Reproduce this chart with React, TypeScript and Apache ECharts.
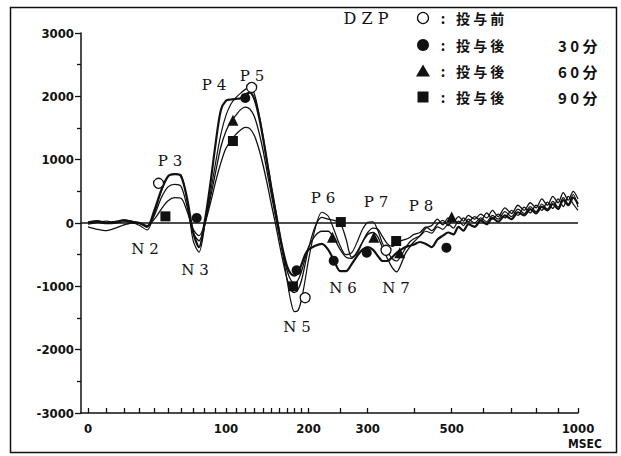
import React, { useEffect, useRef } from "react";
import * as echarts from "echarts";

// time offset used for the logarithmic time axis (axis value = ms + OFFSET)
const OFFSET = 108;

const times = [
  0, 5, 10, 15, 20, 25, 30, 35, 40, 45,
  50, 55, 60, 65, 70, 75, 80, 85, 90, 95,
  100, 105, 110, 115, 120, 125, 130, 135, 140, 145,
  150, 155, 160, 165, 170, 175, 180, 185, 190, 195,
  200, 210, 220, 230, 240, 250, 260, 270, 280, 290,
  300, 310, 320, 330, 340, 350, 360, 370, 380, 390,
  400, 415, 430, 445, 460, 475, 490, 505, 520, 535,
  550, 570, 590, 610, 630, 650, 675, 700, 725, 750,
  775, 800, 825, 850, 875, 900, 925, 950, 975, 1000,
];

// 投与前
const beforeVals = [
  -20, 10, 30, 0, 20, 10, -40, -110, 150, 500,
  730, 780, 760, 350, -280, -460, -50, 450, 950, 1400,
  1700, 1880, 1980, 2050, 2110, 2140, 2040, 1750, 1380, 980,
  580, 230, -120, -520, -900, -1230, -1400, -1380, -1200, -900,
  -580, -80, 170, 110, -120, -360, -500, -470, -300, -100,
  10, 20, -120, -330, -450, -560, -600, -520, -400, -300,
  -250, -200, -130, -160, -60, -100, -20, -80, 30, -40,
  60, 0, 80, 20, 120, 60, 180, 100, 220, 150,
  260, 180, 300, 220, 340, 250, 400, 300, 450, 250,
];

// 投与後 30分
const after30Vals = [
  10, 30, 0, 20, 40, 20, 0, -60, 200, 520,
  740, 770, 740, 380, -150, -380, 20, 600, 1250, 1780,
  1930, 1950, 1960, 1970, 2030, 2060, 1960, 1700, 1350, 950,
  560, 200, -150, -450, -680, -800, -830, -780, -650, -500,
  -420, -360, -330, -420, -600, -760, -760, -650, -520, -420,
  -380, -420, -520, -600, -600, -540, -470, -420, -380, -360,
  -340, -300, -330, -380, -260, -200, -150, -180, -60, -120,
  -20, -60, 40, -20, 80, 20, 120, 60, 170, 120,
  220, 150, 260, 200, 300, 220, 360, 280, 400, 300,
];

// 投与後 60分
const after60Vals = [
  -60, -100, -120, -80, -30, 0, -10, -60, 120, 400,
  570, 610, 580, 250, -150, -280, -20, 380, 800, 1200,
  1450, 1600, 1700, 1790, 1830, 1800, 1680, 1450, 1150, 800,
  450, 120, -200, -500, -750, -900, -950, -900, -760, -560,
  -380, -200, -130, -130, -250, -420, -540, -560, -450, -300,
  -180, -150, -220, -400, -560, -700, -770, -650, -480, -380,
  -300, -200, -80, -40, 60, -30, 80, 20, 100, 30,
  120, 60, 140, 80, 200, 100, 240, 150, 280, 200,
  320, 240, 380, 280, 420, 320, 480, 360, 500, 380,
];

// 投与後 90分
const after90Vals = [
  0, 10, -10, 0, 50, 30, 0, -40, 60, 220,
  350, 400, 390, 180, -100, -200, -20, 300, 650, 950,
  1180, 1300, 1400, 1470, 1510, 1490, 1380, 1180, 920, 620,
  300, 0, -320, -620, -880, -1050, -1100, -1050, -900, -650,
  -400, -50, 90, 60, 40, 0, -250, -540, -480, -300,
  -150, -80, -100, -220, -330, -370, -330, -280, -260, -230,
  -180, -150, -60, -120, -20, 40, -40, 60, -10, 80,
  20, 100, 40, 160, 60, 140, 80, 200, 120, 250,
  160, 280, 200, 330, 230, 380, 260, 420, 300, 200,
];

// marker points (ms, value)
const beforeMarkT = [43, 127, 195, 337];
const beforeMarkV = [627, 2140, -1179, -431];
const after30MarkT = [73, 120, 183, 239, 298, 485];
const after30MarkV = [80, 1975, -747, -595, -468, -389];
const after60MarkT = [107, 237, 312, 367, 500];
const after60MarkV = [1622, -225, -226, -468, 95];
const after90MarkT = [48, 107, 178, 251, 359];
const after90MarkV = [105, 1295, -1000, 15, -284];

const xLabelValues = [0, 100, 200, 300, 500, 1000];
const xTickValues = [
  0, 10, 20, 30, 40, 50, 60, 70, 80, 90, 100,
  110, 120, 130, 140, 150, 160, 170, 180, 190, 200,
  250, 300, 400, 500, 600, 700, 800, 900, 1000,
];

const peakLabels = ["P 3", "P 4", "P 5", "N 2", "N 3", "N 5", "P 6", "N 6", "P 7", "N 7", "P 8"];
const peakPos: [number, number][] = [
  [170, 161], [214, 85], [252, 76], [145, 249], [195, 270], [297, 327],
  [323, 198], [343, 288], [376, 202], [396, 288], [421, 206],
];

const legendNames = ["投 与 前", "投 与 後", "投 与 後", "投 与 後"];
const legendTimes = ["", "3 0 分", "6 0 分", "9 0 分"];

const AXIS_FONT = "'DejaVu Sans Condensed', 'Liberation Sans Narrow', 'DejaVu Sans', sans-serif";
const SERIF = "'DejaVu Serif', 'Liberation Serif', serif";
const CJK = "'Noto Sans CJK JP', 'Noto Sans CJK SC', sans-serif";

const toPairs = (ts: number[], vs: number[]) => ts.map((t, i) => [t + OFFSET, vs[i]]);

export default function App() {
  const ref = useRef<HTMLDivElement>(null);
  useEffect(() => {
    if (!ref.current) return;
    const chart = echarts.init(ref.current, null, { renderer: "svg" });
    const black = "#111";
    const lineSeries = (name: string, vals: number[], width: number, withZero = false) => ({
      name,
      type: "line",
      data: toPairs(times, vals),
      showSymbol: false,
      symbol: "none",
      smooth: 0.3,
      lineStyle: { color: black, width },
      z: 3,
      ...(withZero
        ? {
            markLine: {
              silent: true,
              symbol: ["none", "none"],
              label: { show: false },
              lineStyle: { color: black, width: 1.6, type: "solid" },
              data: [{ yAxis: 0 }],
            },
          }
        : {}),
    });
    const legendY = [18, 45, 71, 97];
    const centered = { align: "center", verticalAlign: "middle", textAlign: "center", textVerticalAlign: "middle" };
    const leftMid = { align: "left", verticalAlign: "middle", textAlign: "left", textVerticalAlign: "middle" };
    const graphic: any[] = [
      {
        type: "rect",
        shape: { x: 10.5, y: 7.5, width: 606, height: 445 },
        style: { fill: "none", stroke: black, lineWidth: 1.5 },
        silent: true,
      },
      {
        type: "text",
        x: 366,
        y: legendY[0],
        style: { text: "D Z P", font: `16px ${SERIF}`, fill: black, ...centered },
      },
      {
        type: "text",
        x: 585,
        y: 444,
        style: { text: "MSEC", font: `bold 12px ${AXIS_FONT}`, fill: black, ...centered },
      },
    ];
    // legend symbols
    const sx = 423;
    graphic.push({
      type: "circle",
      shape: { cx: sx, cy: legendY[0], r: 5.5 },
      style: { fill: "#fff", stroke: black, lineWidth: 1.3 },
    });
    graphic.push({ type: "circle", shape: { cx: sx, cy: legendY[1], r: 6 }, style: { fill: black } });
    graphic.push({
      type: "polygon",
      shape: { points: [[sx, legendY[2] - 6.5], [sx + 7, legendY[2] + 5.5], [sx - 7, legendY[2] + 5.5]] },
      style: { fill: black },
    });
    graphic.push({
      type: "rect",
      shape: { x: sx - 5.5, y: legendY[3] - 5.5, width: 11, height: 11 },
      style: { fill: black },
    });
    legendNames.forEach((n, i) => {
      graphic.push({
        type: "text",
        x: 443,
        y: legendY[i],
        style: { text: ":", font: `bold 14px ${CJK}`, fill: black, ...centered },
      });
      graphic.push({
        type: "text",
        x: 456,
        y: legendY[i],
        style: { text: n, font: `bold 14px ${CJK}`, fill: black, ...leftMid },
      });
      if (legendTimes[i]) {
        graphic.push({
          type: "text",
          x: 558,
          y: legendY[i],
          style: { text: legendTimes[i], font: `bold 15px ${CJK}`, fill: black, ...leftMid },
        });
      }
    });
    peakLabels.forEach((t, i) => {
      graphic.push({
        type: "text",
        x: peakPos[i][0],
        y: peakPos[i][1],
        style: { text: t, font: `15px ${SERIF}`, fill: black, ...centered },
      });
    });

    const axisLabelStyle = {
      color: black,
      fontSize: 13,
      fontWeight: "bold",
      fontFamily: AXIS_FONT,
    };
    const tickLine = { color: black, width: 1.3 };

    chart.setOption({
      animation: false,
      backgroundColor: "#fff",
      grid: { left: 81, top: 33, right: 43, bottom: 43 },
      xAxis: {
        type: "log",
        logBase: 10,
        min: 104.46,
        max: 1000 + OFFSET,
        axisLine: { show: true, onZero: false, lineStyle: { color: black, width: 1.5 } },
        axisTick: {
          show: true,
          customValues: xTickValues.map((t) => t + OFFSET),
          length: 5,
          inside: true,
          lineStyle: tickLine,
        },
        minorTick: { show: false },
        axisLabel: {
          ...axisLabelStyle,
          customValues: xLabelValues.map((t) => t + OFFSET),
          formatter: (v: number) => String(Math.round(v - OFFSET)),
          margin: 9,
        },
        splitLine: { show: false },
      },
      yAxis: {
        type: "value",
        min: -3000,
        max: 3000,
        interval: 1000,
        axisLine: { show: true, onZero: false, lineStyle: { color: black, width: 1.5 } },
        axisTick: { show: true, length: 6, lineStyle: tickLine },
        minorTick: { show: true, splitNumber: 2, length: 4, lineStyle: tickLine },
        axisLabel: { ...axisLabelStyle, margin: 7, formatter: (v: number) => String(v) },
        splitLine: { show: false },
        minorSplitLine: { show: false },
      },
      series: [
        lineSeries("投与前", beforeVals, 1.2, true),
        lineSeries("投与後30分", after30Vals, 2.2),
        lineSeries("投与後60分", after60Vals, 1.3),
        lineSeries("投与後90分", after90Vals, 1.3),
        {
          type: "scatter",
          data: toPairs(beforeMarkT, beforeMarkV),
          symbol: "circle",
          symbolSize: 10,
          itemStyle: { color: "#fff", borderColor: black, borderWidth: 1.3, opacity: 1 },
          z: 5,
        },
        {
          type: "scatter",
          data: toPairs(after30MarkT, after30MarkV),
          symbol: "circle",
          symbolSize: 10,
          itemStyle: { color: black, opacity: 1 },
          z: 5,
        },
        {
          type: "scatter",
          data: toPairs(after60MarkT, after60MarkV),
          symbol: "triangle",
          symbolSize: 11,
          itemStyle: { color: black, opacity: 1 },
          z: 5,
        },
        {
          type: "scatter",
          data: toPairs(after90MarkT, after90MarkV),
          symbol: "rect",
          symbolSize: 10,
          itemStyle: { color: black, opacity: 1 },
          z: 5,
        },
      ],
      graphic,
    });
    return () => chart.dispose();
  }, []);
  return (
    <div
      ref={ref}
      style={{ position: "absolute", left: 0, top: 0, width: 621, height: 456, background: "#fff" }}
    />
  );
}
